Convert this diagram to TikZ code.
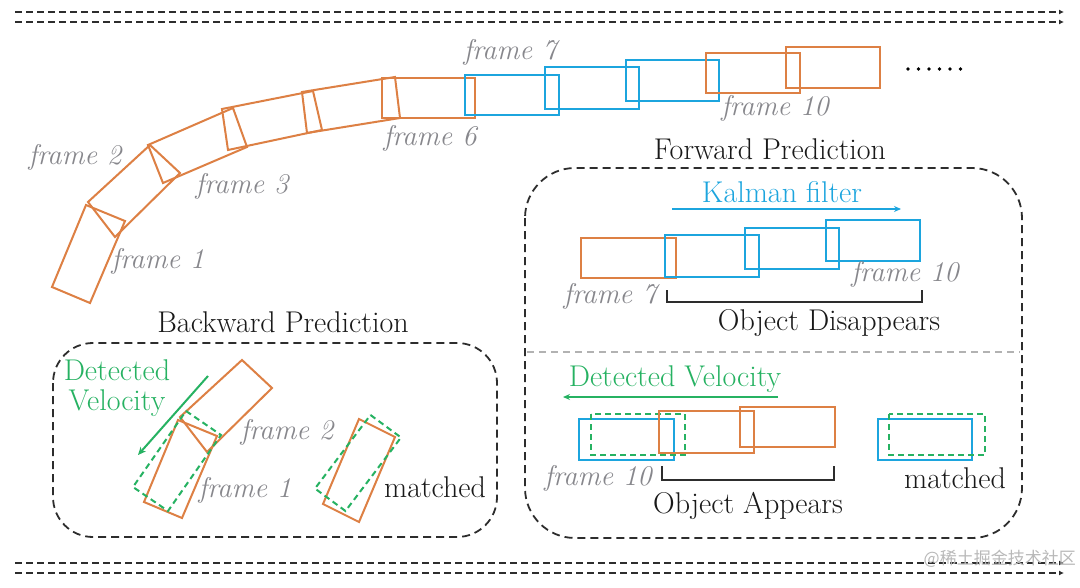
\documentclass[tikz,border=0pt]{standalone}
\usepackage{fontspec}
\newfontfamily\cjkwm{Noto Sans CJK SC}
\usetikzlibrary{arrows.meta}
\definecolor{orng}{RGB}{221,128,68}
\definecolor{cyn}{RGB}{28,165,222}
\definecolor{grn}{RGB}{38,178,98}
\definecolor{labgray}{RGB}{135,135,140}
\definecolor{dark}{RGB}{45,45,45}
\newcommand\myLab{\fontsize{28.5}{32}\selectfont\itshape}
\newcommand\myTxt{\fontsize{30}{30}\selectfont}
\tikzset{
  ob/.style={draw=orng, line width=2pt},
  bb/.style={draw=cyn, line width=2pt},
  gd/.style={draw=grn, line width=2pt, dash pattern=on 6pt off 4pt},
  lab/.style={font=\myLab, text=labgray, inner sep=0pt},
  txt/.style={font=\myTxt, text=black!90, inner sep=0pt},
  timeline/.style={draw=dark, line width=2pt, dash pattern=on 7pt off 4pt, -{Latex[length=5pt,width=5pt]}},
  region/.style={draw=dark, line width=1.8pt, dash pattern=on 8pt off 5pt, rounded corners=40pt},
  bracket/.style={draw=dark, line width=1.8pt},
  dotmark/.style={fill=black, draw=none, circle, minimum size=3.6pt, inner sep=0pt},
}
\begin{document}
\begin{tikzpicture}[x=1pt,y=-1pt]
\useasboundingbox (0,0) rectangle (1080,587);
\fill[white] (0,0) rectangle (1080,587);

% time lines
\coordinate (t1a) at (15,12);  \coordinate (t1b) at (1064,12);
\coordinate (t2a) at (15,22);  \coordinate (t2b) at (1064,22);
\coordinate (b1a) at (15,563); \coordinate (b1b) at (1064,563);
\coordinate (b2a) at (15,573); \coordinate (b2b) at (1064,573);
\draw[timeline] (t1a) -- (t1b);
\draw[timeline] (t2a) -- (t2b);
\draw[timeline] (b1a) -- (b1b);
\draw[timeline] (b2a) -- (b2b);

% trajectory
\draw[ob] (52,287) -- (90,303) -- (125,221) -- (86,205) -- cycle;
\draw[ob] (88,202) -- (115,237) -- (180,173) -- (150,145) -- cycle;
\draw[ob] (148,145) -- (163,183) -- (247,147) -- (233,108) -- cycle;
\draw[ob] (222,109) -- (228,150) -- (322,130) -- (313,91) -- cycle;
\draw[ob] (302,92) -- (307,133) -- (400,118) -- (395,77) -- cycle;
\draw[ob] (382,78) rectangle (475,118);
\draw[bb] (465,75) rectangle (559,115);
\draw[bb] (545,67) rectangle (639,109);
\draw[bb] (626,60) rectangle (719,101);
\draw[ob] (706,53) rectangle (800,93);
\draw[ob] (786,47) rectangle (880,88);
\foreach \i in {0,...,5} \node[dotmark] (dot\i) at (908+10.5*\i,69) {};

\node[lab] (l1) at (158,261) {frame 1};
\node[lab] (l2) at (75,157) {frame 2};
\node[lab] (l3) at (242,186) {frame 3};
\node[lab] (l6) at (430,138) {frame 6};
\node[lab] (l7) at (510,52) {frame 7};
\node[lab] (l10) at (775,108) {frame 10};

% backward prediction
\node[txt] (bwt) at (283,322) {Backward Prediction};
\draw[region] (53,343) rectangle (497,537);
\node[txt, text=grn, align=center] (dv1) at (117,388) {Detected\\Velocity};
\coordinate (va) at (208,376);
\coordinate (vb) at (138,455);
\draw[draw=grn, line width=2pt, -{Stealth[length=8pt,width=7pt]}] (va) -- (vb);
\draw[ob] (144,502) -- (182,518) -- (217,436) -- (178,420) -- cycle;
\draw[ob] (180,417) -- (207,452) -- (272,388) -- (242,360) -- cycle;
\draw[gd] (186,411) -- (221,435) -- (168,511) -- (133,487) -- cycle;
\node[lab] (b2) at (287,432) {frame 2};
\node[lab] (b1) at (245,490) {frame 1};
\draw[ob] (323,504) -- (359,522) -- (395,437) -- (359,419) -- cycle;
\draw[gd] (370.5,415) -- (401,437.5) -- (345.5,511) -- (315,488.5) -- cycle;
\node[txt] (bm) at (435,487) {matched};

% forward prediction
\node[txt] (fwt) at (770,149) {Forward Prediction};
\draw[region, rounded corners=50pt] (525,168) rectangle (1022,538);
\coordinate (da) at (527,352);
\coordinate (db) at (1020,352);
\draw[draw=gray!60, line width=1.5pt, dash pattern=on 7pt off 5pt] (da) -- (db);

\node[txt, text=cyn] (kf) at (782,192) {Kalman filter};
\coordinate (ka) at (672,209);
\coordinate (kb) at (901,209);
\draw[draw=cyn, line width=2pt, -{Stealth[length=7pt,width=6pt]}] (ka) -- (kb);
\draw[ob] (581,238) rectangle (676,278);
\draw[bb] (665,235) rectangle (759,277);
\draw[bb] (745,228) rectangle (839,269);
\draw[bb] (826,220) rectangle (920,261);
\node[lab] (f7) at (610,296) {frame 7};
\node[lab] (f10) at (905,274) {frame 10};
\draw[bracket] (667,290) -- (667,302) -- (922,302) -- (922,290);
\node[txt] (od) at (829,323) {Object Disappears};

\node[txt, text=grn] (dv2) at (675,379) {Detected Velocity};
\coordinate (ga) at (778,397);
\coordinate (gb) at (563,397);
\draw[draw=grn, line width=2pt, -{Stealth[length=7pt,width=6pt]}] (ga) -- (gb);
\draw[bb] (579,419) rectangle (674,460);
\draw[gd] (591,414) rectangle (685,455);
\draw[ob] (659,411) rectangle (754,453);
\draw[ob] (740,407) rectangle (835,447);
\node[lab] (g10) at (598,478) {frame 10};
\draw[bracket] (662,466) -- (662,480) -- (834,480) -- (834,466);
\node[txt] (oa) at (748,506) {Object Appears};
\draw[bb] (878,419) rectangle (972,460);
\draw[gd] (889,414) rectangle (985,455);
\node[txt] (fm) at (955,478) {matched};

% watermark
\node[font=\cjkwm\fontsize{17}{20}\selectfont, text=gray!55, inner sep=0pt, anchor=east] (wm) at (1076,559) {@稀土掘金技术社区};
\end{tikzpicture}
\end{document}
